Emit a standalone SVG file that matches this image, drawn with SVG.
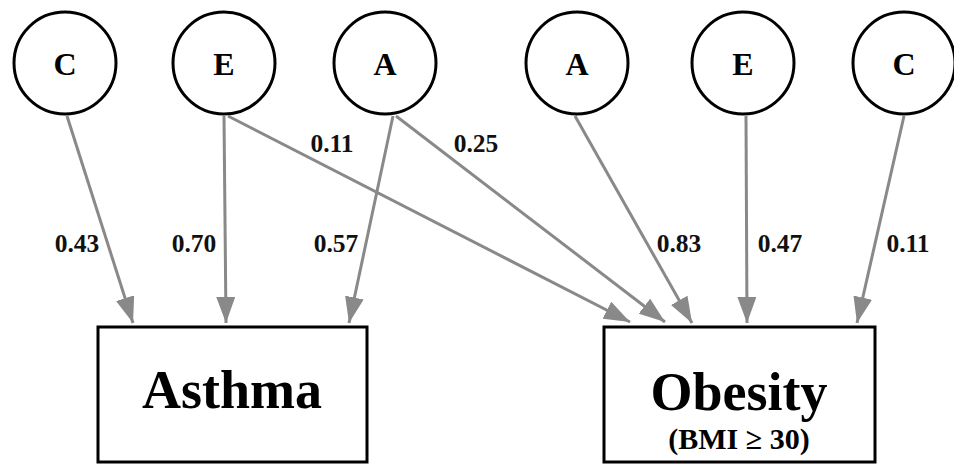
<svg xmlns="http://www.w3.org/2000/svg" width="954" height="466" viewBox="0 0 954 466">
<style>
.node circle{fill:#fff;stroke:#000;stroke-width:3}
.node rect{fill:#fff;stroke:#000;stroke-width:3}
.lt{font-family:"Liberation Serif","Times New Roman",serif;font-weight:bold;fill:#000;text-anchor:middle}
.circ{font-size:32px}
.big{font-size:54px}
.sub{font-size:30px}
.lbl{font-family:"Liberation Serif","Times New Roman",serif;font-weight:bold;font-size:25.5px;fill:#111;text-anchor:middle}
.edge{stroke:#898989;stroke-width:3;fill:none;marker-end:url(#ah)}
</style>
<defs>
<marker id="ah" markerUnits="userSpaceOnUse" markerWidth="26" markerHeight="19" refX="26" refY="9.5" orient="auto" viewBox="0 0 26 19">
<path d="M0,0 L26,9.5 L0,19 z" fill="#898989"/>
</marker>
</defs>
<rect width="954" height="466" fill="#fff"/>
<g id="connectors">
<line class="edge" x1="67" y1="116" x2="133" y2="323"/>
<line class="edge" x1="224" y1="116" x2="226" y2="323"/>
<line class="edge" x1="393" y1="116" x2="349" y2="323"/>
<line class="edge" x1="228" y1="116" x2="630" y2="322"/>
<line class="edge" x1="396" y1="116" x2="665" y2="322"/>
<line class="edge" x1="575" y1="116" x2="692" y2="323"/>
<line class="edge" x1="746" y1="116" x2="747" y2="323"/>
<line class="edge" x1="904" y1="116" x2="857" y2="323"/>
</g>
<g id="labels">
<text class="lbl" x="77" y="252">0.43</text>
<text class="lbl" x="194" y="252">0.70</text>
<text class="lbl" x="336" y="252">0.57</text>
<text class="lbl" x="332" y="152">0.11</text>
<text class="lbl" x="476" y="152">0.25</text>
<text class="lbl" x="679" y="252">0.83</text>
<text class="lbl" x="780" y="252">0.47</text>
<text class="lbl" x="908" y="252">0.11</text>
</g>
<g id="C1" class="node"><circle cx="65" cy="63" r="51"/><text class="lt circ" x="65" y="75">C</text></g>
<g id="E1" class="node"><circle cx="224" cy="63" r="51"/><text class="lt circ" x="224" y="75">E</text></g>
<g id="A1" class="node"><circle cx="385" cy="63" r="51"/><text class="lt circ" x="385" y="75">A</text></g>
<g id="A2" class="node"><circle cx="577" cy="63" r="51"/><text class="lt circ" x="577" y="75">A</text></g>
<g id="E2" class="node"><circle cx="743" cy="63" r="51"/><text class="lt circ" x="743" y="75">E</text></g>
<g id="C2" class="node"><circle cx="904" cy="63" r="51"/><text class="lt circ" x="904" y="75">C</text></g>
<g id="asthma" class="node"><rect x="98" y="327" width="269" height="135"/><text class="lt big" x="232" y="408">Asthma</text></g>
<g id="obesity" class="node"><rect x="604" y="327" width="271" height="135"/><text class="lt big" x="739" y="410">Obesity</text><text class="lt sub" x="739" y="449">(BMI ≥ 30)</text></g>
</svg>
